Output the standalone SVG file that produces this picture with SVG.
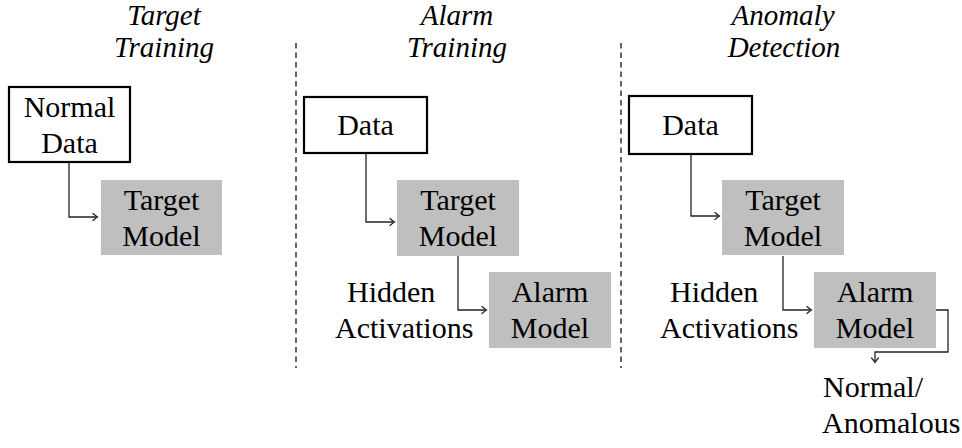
<svg xmlns="http://www.w3.org/2000/svg" width="962" height="448" viewBox="0 0 962 448">
<defs>
<marker id="ah" viewBox="-5 -5 10 10" markerWidth="10" markerHeight="10" refX="0" refY="0" orient="auto" markerUnits="userSpaceOnUse">
<path d="M-4,-3.5 Q-1,-0.8 0.5,0 Q-1,0.8 -4,3.5" fill="none" stroke="#222" stroke-width="1.2" stroke-linecap="round"/>
</marker>
</defs>
<g id="titles" text-anchor="middle">
<text style="font-family:'Liberation Serif',serif;font-style:italic;font-size:29px" x="164" y="25">Target</text>
<text style="font-family:'Liberation Serif',serif;font-style:italic;font-size:29px" x="164" y="57">Training</text>
<text style="font-family:'Liberation Serif',serif;font-style:italic;font-size:29px" x="457" y="25">Alarm</text>
<text style="font-family:'Liberation Serif',serif;font-style:italic;font-size:29px" x="457" y="57">Training</text>
<text style="font-family:'Liberation Serif',serif;font-style:italic;font-size:29px" x="783" y="25">Anomaly</text>
<text style="font-family:'Liberation Serif',serif;font-style:italic;font-size:29px" x="784" y="57">Detection</text>
</g>
<g id="separators" stroke="#000" stroke-width="1.2" stroke-dasharray="5.5 4">
<line x1="296" y1="43" x2="296" y2="368"/>
<line x1="621" y1="43" x2="621" y2="368"/>
</g>
<g id="p1-normal-data" text-anchor="middle">
<rect x="9" y="87" width="121" height="75" fill="#fff" stroke="#000" stroke-width="2.2"/>
<text style="font-family:'Liberation Serif',serif;font-size:30px" x="69.5" y="117">Normal</text>
<text style="font-family:'Liberation Serif',serif;font-size:30px" x="69.5" y="153">Data</text>
</g>
<g id="p1-target-model" text-anchor="middle">
<rect x="101" y="180" width="121" height="75" fill="#bfbfbf"/>
<text style="font-family:'Liberation Serif',serif;font-size:30px" x="161.5" y="210">Target</text>
<text style="font-family:'Liberation Serif',serif;font-size:30px" x="161.5" y="246">Model</text>
</g>
<g id="p2-data" text-anchor="middle">
<rect x="304" y="97" width="123" height="56" fill="#fff" stroke="#000" stroke-width="2.2"/>
<text style="font-family:'Liberation Serif',serif;font-size:30px" x="365.5" y="135">Data</text>
</g>
<g id="p2-target-model" text-anchor="middle">
<rect x="397" y="180" width="122" height="76" fill="#bfbfbf"/>
<text style="font-family:'Liberation Serif',serif;font-size:30px" x="458" y="210">Target</text>
<text style="font-family:'Liberation Serif',serif;font-size:30px" x="458" y="246">Model</text>
</g>
<g id="p2-alarm-model" text-anchor="middle">
<rect x="489" y="272" width="122" height="76" fill="#bfbfbf"/>
<text style="font-family:'Liberation Serif',serif;font-size:30px" x="550" y="302">Alarm</text>
<text style="font-family:'Liberation Serif',serif;font-size:30px" x="550" y="338">Model</text>
</g>
<g id="p2-hidden">
<text style="font-family:'Liberation Serif',serif;font-size:30px" x="347" y="302">Hidden</text>
<text style="font-family:'Liberation Serif',serif;font-size:30px" x="335" y="338">Activations</text>
</g>
<g id="p3-data" text-anchor="middle">
<rect x="629" y="96" width="123" height="58" fill="#fff" stroke="#000" stroke-width="2.2"/>
<text style="font-family:'Liberation Serif',serif;font-size:30px" x="690.5" y="135">Data</text>
</g>
<g id="p3-target-model" text-anchor="middle">
<rect x="722" y="180" width="122" height="75" fill="#bfbfbf"/>
<text style="font-family:'Liberation Serif',serif;font-size:30px" x="783" y="210">Target</text>
<text style="font-family:'Liberation Serif',serif;font-size:30px" x="783" y="246">Model</text>
</g>
<g id="p3-alarm-model" text-anchor="middle">
<rect x="814" y="272" width="122" height="76" fill="#bfbfbf"/>
<text style="font-family:'Liberation Serif',serif;font-size:30px" x="875" y="302">Alarm</text>
<text style="font-family:'Liberation Serif',serif;font-size:30px" x="875" y="338">Model</text>
</g>
<g id="p3-hidden">
<text style="font-family:'Liberation Serif',serif;font-size:30px" x="670" y="302">Hidden</text>
<text style="font-family:'Liberation Serif',serif;font-size:30px" x="660" y="338">Activations</text>
</g>
<g id="p3-output">
<text style="font-family:'Liberation Serif',serif;font-size:30px" x="823" y="397">Normal/</text>
<text style="font-family:'Liberation Serif',serif;font-size:30px" x="822" y="433">Anomalous</text>
</g>
<g id="connectors" fill="none" stroke="#222" stroke-width="1.3">
<path d="M69,163 V217 H97" marker-end="url(#ah)"/>
<path d="M366,154 V222 H394" marker-end="url(#ah)"/>
<path d="M458,256 V310 H486" marker-end="url(#ah)"/>
<path d="M691,155 V216 H719" marker-end="url(#ah)"/>
<path d="M783,256 V310 H811" marker-end="url(#ah)"/>
<path d="M936,310 H948 V352 H875 V362" marker-end="url(#ah)"/>
</g>
</svg>
